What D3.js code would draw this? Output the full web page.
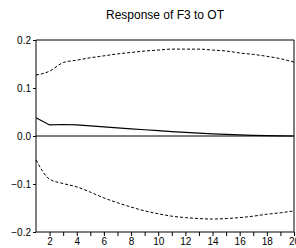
<!DOCTYPE html>
<html>
<head>
<meta charset="utf-8">
<script src="https://cdn.jsdelivr.net/npm/d3@7"></script>
<style>
  body { margin: 0; background: #fff; }
  svg { display: block; }
  text { font-family: Arial, "Liberation Sans", sans-serif; fill: #000; }
</style>
</head>
<body>
<div id="chart"></div>
<script>
'use strict';

var periods = d3.range(1, 21);
var response = [0.038, 0.023, 0.024, 0.023, 0.021, 0.019, 0.017, 0.015, 0.013, 0.011,
                0.009, 0.0075, 0.006, 0.0045, 0.0033, 0.0023, 0.0015, 0.0008, 0.0003, 0.0];
var upperBand = [0.127, 0.135, 0.153, 0.158, 0.163, 0.167, 0.171, 0.174, 0.177, 0.179,
                 0.181, 0.181, 0.181, 0.179, 0.177, 0.173, 0.170, 0.166, 0.161, 0.154];
var lowerBand = [-0.050, -0.090, -0.099, -0.106, -0.117, -0.129, -0.139, -0.148, -0.156, -0.162,
                 -0.167, -0.170, -0.172, -0.173, -0.172, -0.170, -0.167, -0.163, -0.160, -0.156];
var yTicks = [-0.2, -0.1, 0.0, 0.1, 0.2];
var xTickLabels = [2, 4, 6, 8, 10, 12, 14, 16, 18, 20];
var title = 'Response of F3 to OT';

var width = 296, height = 248,
    margin = { top: 40, right: 2, bottom: 16, left: 36 },
    svg = d3.select('#chart').append('svg').attr('width', width).attr('height', height),
    x = d3.scaleLinear().domain([1, 20]).range([margin.left, width - margin.right]),
    y = d3.scaleLinear().domain([-0.2, 0.2]).range([height - margin.bottom, margin.top]);

svg.append('text')
    .attr('x', 165).attr('y', 19)
    .attr('text-anchor', 'middle')
    .style('font-size', '12px')
    .text(title);

// frame: top and right border
svg.append('path')
    .attr('d', 'M' + x(1) + ',' + y(0.2) + 'H' + x(20) + 'V' + y(-0.2))
    .attr('fill', 'none').attr('stroke', '#000').attr('stroke-width', 1);

// y axis
var yAxis = svg.append('g')
    .attr('transform', 'translate(' + x(1) + ',0)')
    .call(d3.axisLeft(y).tickValues(yTicks).tickSize(3).tickPadding(2).tickFormat(d3.format('.1f')));
yAxis.selectAll('text').style('font-size', '10px');

// x axis
var xAxis = svg.append('g')
    .attr('transform', 'translate(0,' + y(-0.2) + ')')
    .call(d3.axisBottom(x).tickValues(periods.slice(1)).tickSize(4).tickPadding(2)
        .tickFormat(function (d) { return xTickLabels.indexOf(d) >= 0 ? d : ''; }));
xAxis.selectAll('text').style('font-size', '10px');
xAxis.select('.domain').attr('d', 'M' + x(1) + ',0H' + x(20));
yAxis.select('.domain').attr('d', 'M0,' + y(0.2) + 'V' + y(-0.2));
svg.selectAll('.domain, .tick line').attr('stroke', '#000');

// zero line
svg.append('line')
    .attr('x1', x(1)).attr('x2', x(20))
    .attr('y1', y(0)).attr('y2', y(0))
    .attr('stroke', '#000').attr('stroke-width', 1);

var line = d3.line()
    .x(function (d, i) { return x(periods[i]); })
    .y(function (d) { return y(d); })
    .curve(d3.curveMonotoneX);

svg.append('path').datum(upperBand).attr('d', line)
    .attr('fill', 'none').attr('stroke', '#000').attr('stroke-width', 1).attr('stroke-dasharray', '3,2');
svg.append('path').datum(lowerBand).attr('d', line)
    .attr('fill', 'none').attr('stroke', '#000').attr('stroke-width', 1).attr('stroke-dasharray', '3,2');
svg.append('path').datum(response).attr('d', d3.line()
        .x(function (d, i) { return x(periods[i]); })
        .y(function (d) { return y(d); }))
    .attr('fill', 'none').attr('stroke', '#000').attr('stroke-width', 1.2);
</script>
</body>
</html>
